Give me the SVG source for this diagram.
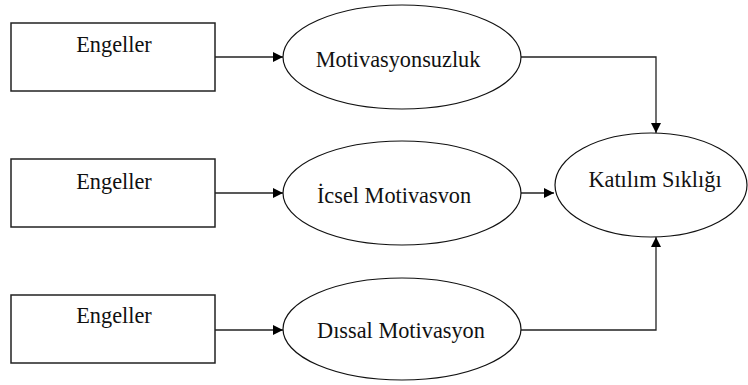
<svg xmlns="http://www.w3.org/2000/svg" width="748" height="385" viewBox="0 0 748 385">
<style>
.box{fill:#fff;stroke:#222;stroke-width:1.5}
.ell{fill:#fff;stroke:#111;stroke-width:1.2}
.t{font-family:"Liberation Serif","Times New Roman",serif;font-size:22.3px;fill:#111;text-anchor:middle}
.c{fill:none;stroke:#222;stroke-width:1.3}
</style>
<defs>
<marker id="ah" markerWidth="10" markerHeight="10" refX="10" refY="5" orient="auto" markerUnits="userSpaceOnUse">
<path d="M0,0 L10,5 L0,10 Z" fill="#000"/>
</marker>
</defs>
<rect width="748" height="385" fill="#fff"/>
<g id="connectors">
<line class="c" x1="215" y1="57" x2="283" y2="57" marker-end="url(#ah)"/>
<line class="c" x1="215" y1="193" x2="283" y2="193" marker-end="url(#ah)"/>
<line class="c" x1="215" y1="330" x2="283" y2="330" marker-end="url(#ah)"/>
<polyline class="c" points="521,57 656,57 656,133" marker-end="url(#ah)"/>
<line class="c" x1="520" y1="193" x2="554" y2="193" marker-end="url(#ah)"/>
<polyline class="c" points="521,330 656,330 656,237" marker-end="url(#ah)"/>
</g>
<g id="engeller1"><rect class="box" x="11" y="23" width="204" height="68"/><text class="t" x="114" y="52">Engeller</text></g>
<g id="engeller2"><rect class="box" x="11" y="159" width="204" height="68"/><text class="t" x="114" y="189">Engeller</text></g>
<g id="engeller3"><rect class="box" x="11" y="295" width="204" height="68"/><text class="t" x="114" y="323">Engeller</text></g>
<g id="motivasyonsuzluk"><ellipse class="ell" cx="402" cy="57" rx="119" ry="52"/><text class="t" x="398" y="67">Motivasyonsuzluk</text></g>
<g id="icsel"><ellipse class="ell" cx="402" cy="193" rx="119" ry="52"/><text class="t" x="394" y="203">İcsel Motivasvon</text></g>
<g id="dissal"><ellipse class="ell" cx="402" cy="329" rx="119" ry="51"/><text class="t" x="401" y="338">Dıssal Motivasyon</text></g>
<g id="katilim"><ellipse class="ell" cx="651" cy="185" rx="96" ry="52"/><text class="t" x="655" y="187">Katılım Sıklığı</text></g>
</svg>
